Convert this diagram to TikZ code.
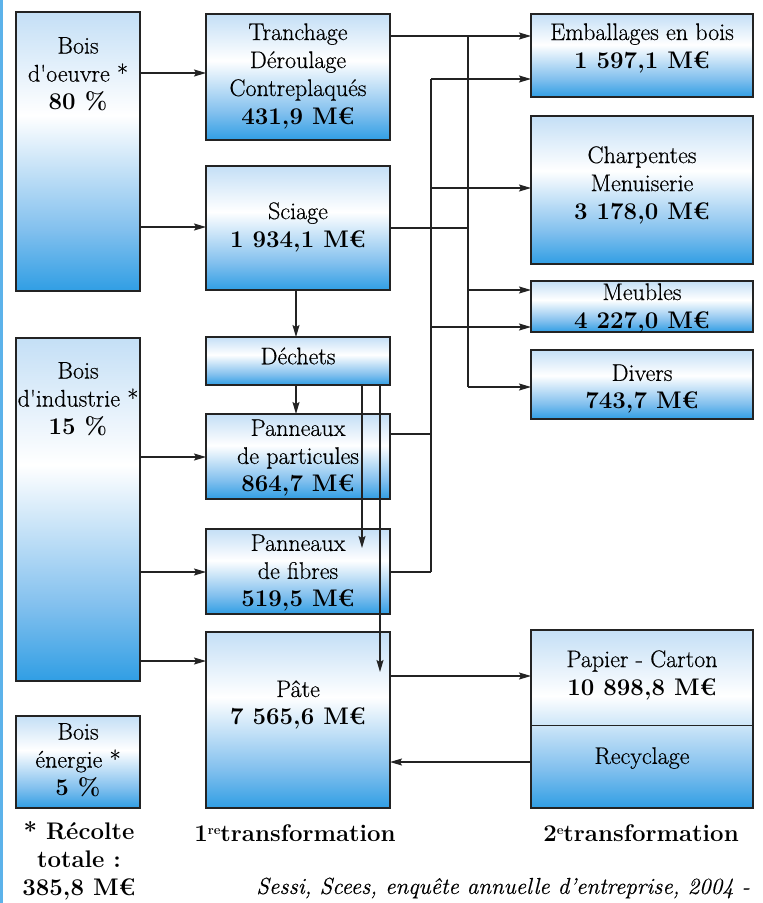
\documentclass[tikz,border=0pt]{standalone}
\usepackage{fontspec}
\setmainfont{Latin Modern Roman}[Ligatures=TeXOff, UprightFeatures={FakeBold=0.5}, ItalicFeatures={FakeBold=0.4}]
\usetikzlibrary{arrows.meta}
\definecolor{tblue}{RGB}{196,223,246}
\definecolor{mblue}{RGB}{130,192,238}
\definecolor{bblue}{RGB}{48,158,228}
\definecolor{edgeblue}{RGB}{92,178,234}
\definecolor{linegray}{RGB}{35,35,35}
\pgfdeclareverticalshading{boxshade}{100bp}{color(0bp)=(bblue); color(25bp)=(bblue); color(36bp)=(mblue); color(56.5bp)=(white); color(75bp)=(tblue); color(100bp)=(tblue)}
\newcommand{\supr}[1]{\raisebox{7pt}{\fontsize{13}{13}\selectfont #1}}
\tikzset{
  box/.style={draw=linegray, line width=1.1pt, shading=boxshade, anchor=north west, inner sep=0pt, outer sep=0pt},
  txt/.style={align=center, inner sep=0pt, font=\fontsize{24}{28}\selectfont},
  arr/.style={draw=linegray, line width=1.2pt, -{Stealth[length=12pt,width=7pt,inset=2pt]}},
  ln/.style={draw=linegray, line width=1.2pt}
}
\begin{document}
\begin{tikzpicture}[x=1pt,y=-1pt]
\useasboundingbox (0,0) rectangle (763,903);
\fill[white] (0,0) rectangle (763,903);
\fill[edgeblue] (0,0) rectangle (3,903);
% left column
\node[box, minimum width=124pt, minimum height=279pt] (bo) at (16,12) {};
\node[box, minimum width=124pt, minimum height=343pt] (bi) at (16,338) {};
\node[box, minimum width=124pt, minimum height=92pt] (be) at (16,716) {};
% middle column
\node[box, minimum width=184pt, minimum height=126pt] (tr) at (206,14) {};
\node[box, minimum width=184pt, minimum height=124pt] (sc) at (206,166) {};
\node[box, minimum width=184pt, minimum height=48pt] (de) at (206,337) {};
\node[box, minimum width=184pt, minimum height=85pt] (pp) at (206,414) {};
\node[box, minimum width=184pt, minimum height=85pt] (pf) at (206,529) {};
\node[box, minimum width=184pt, minimum height=176pt] (pa) at (206,632) {};
% right column
\node[box, minimum width=222pt, minimum height=83pt] (em) at (531,14) {};
\node[box, minimum width=222pt, minimum height=148pt] (ch) at (531,116) {};
\node[box, minimum width=222pt, minimum height=51pt] (me) at (531,281) {};
\node[box, minimum width=222pt, minimum height=69pt] (di) at (531,350) {};
\node[box, minimum width=222pt, minimum height=178pt] (pc) at (531,630) {};
\draw[ln, line width=1pt] (pc.west |- 0,725) -- (pc.east |- 0,725);
% texts
\node[txt] (tbo) at (78,74) {Bois\\d'oeuvre *\\\textbf{80 \%}};
\node[txt] (tbi) at (78,399) {Bois\\d'industrie *\\\textbf{15 \%}};
\node[txt] (tbe) at (78,760) {Bois\\énergie *\\\textbf{5 \%}};
\node[txt, font=\fontsize{24}{28}\selectfont\bfseries] (trec) at (79,861) {* Récolte\\totale :\\385,8 M€};
\node[txt] (ttr) at (298,76) {Tranchage\\Déroulage\\Contreplaqués\\\textbf{431,9 M€}};
\node[txt] (tsc) at (298,227) {Sciage\\\textbf{1 934,1 M€}};
\node[txt] (tde) at (298,356) {Déchets};
\node[txt] (tpp) at (298,458) {Panneaux\\de particules\\\textbf{864,7 M€}};
\node[txt] (tpf) at (298,573) {Panneaux\\de fibres\\\textbf{519,5 M€}};
\node[txt] (tpa) at (298,705) {Pâte\\\textbf{7 565,6 M€}};
\node[txt] (tem) at (642,48) {Emballages en bois\\\textbf{1 597,1 M€}};
\node[txt] (tch) at (642,185) {Charpentes\\Menuiserie\\\textbf{3 178,0 M€}};
\node[txt] (tme) at (642,308) {Meubles\\\textbf{4 227,0 M€}};
\node[txt] (tdi) at (642,389) {Divers\\\textbf{743,7 M€}};
\node[txt] (tpc) at (642,675) {Papier - Carton\\\textbf{10 898,8 M€}};
\node[txt] (trc) at (642,758) {Recyclage};
\node[txt, font=\fontsize{24}{28}\selectfont\bfseries] (t1) at (295,833) {1\supr{re}transformation};
\node[txt, font=\fontsize{24}{28}\selectfont\bfseries] (t2) at (641,833) {2\supr{e}transformation};
\node[txt, anchor=east, font=\fontsize{23}{28}\selectfont\itshape] (tsrc) at (750,888) {Sessi, Scees, enquête annuelle d’entreprise, 2004 -};
% left connectors
\draw[arr] (bo.east |- 0,73) -- (tr.west |- 0,73);
\draw[arr] (bo.east |- 0,227) -- (sc.west |- 0,227);
\draw[arr] (bi.east |- 0,457) -- (pp.west |- 0,457);
\draw[arr] (bi.east |- 0,572) -- (pf.west |- 0,572);
\draw[arr] (bi.east |- 0,661) -- (pa.west |- 0,661);
% vertical middle
\draw[arr] (sc.south -| 296,0) -- (de.north -| 296,0);
\draw[arr] (de.south -| 296,0) -- (pp.north -| 296,0);
\coordinate (d1) at (362,548);
\coordinate (d2) at (380,672);
\draw[arr] (de.south -| d1) -- (d1);
\draw[arr] (de.south -| d2) -- (d2);
% bus A
\coordinate (a1) at (468,36);
\coordinate (a2) at (468,387);
\coordinate (a3) at (468,228);
\coordinate (a4) at (468,290);
\draw[ln] (a1) -- (a2);
\draw[arr] (tr.east |- a1) -- (em.west |- a1);
\draw[ln] (sc.east |- a3) -- (a3);
\draw[arr] (a4) -- (me.west |- a4);
\draw[arr] (a2) -- (di.west |- a2);
% bus B
\coordinate (b1) at (431,79);
\coordinate (b2) at (431,572);
\coordinate (b3) at (431,188);
\coordinate (b4) at (431,327);
\coordinate (b5) at (431,434);
\draw[ln] (b1) -- (b2);
\draw[arr] (b1) -- (em.west |- b1);
\draw[arr] (b3) -- (ch.west |- b3);
\draw[arr] (b4) -- (me.west |- b4);
\draw[ln] (pp.east |- b5) -- (b5);
\draw[ln] (pf.east |- b2) -- (b2);
% paper
\draw[arr] (pa.east |- 0,676) -- (pc.west |- 0,676);
\draw[arr] (pc.west |- 0,762) -- (pa.east |- 0,762);
\end{tikzpicture}
\end{document}
